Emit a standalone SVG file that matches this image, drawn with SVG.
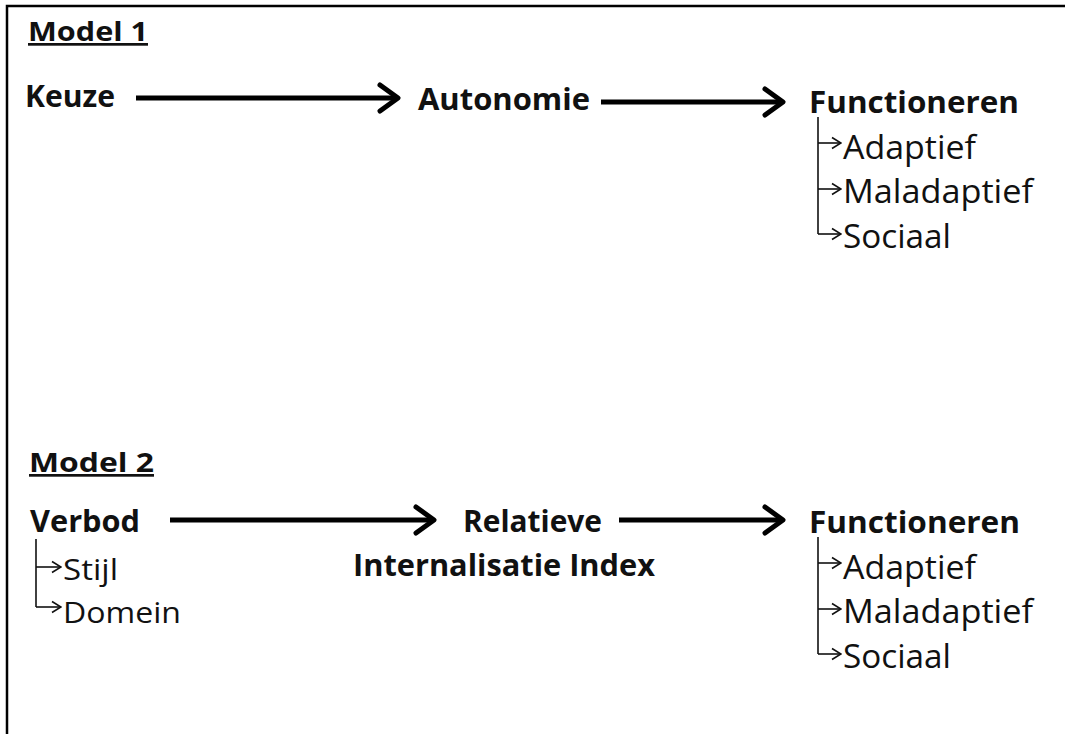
<svg xmlns="http://www.w3.org/2000/svg" width="1065" height="734" viewBox="0 0 1065 734">
<defs>
<style>
text{font-family:"Open Sans","Liberation Sans",sans-serif;fill:#111}
.t{font-size:27px;font-weight:bold;text-decoration:underline}
.h{font-size:30px;font-weight:bold}
.s{font-size:32px}
.s2{font-size:30px}
.big{fill:none;stroke:#000;stroke-width:5}
.sm{fill:none;stroke:#111;stroke-width:1.6}
</style>
<marker id="ah" markerUnits="userSpaceOnUse" viewBox="0 0 26 32" refX="22" refY="16" markerWidth="26" markerHeight="32" orient="auto">
<path d="M4,3 L22,16 L4,29" fill="none" stroke="#000" stroke-width="5" stroke-linecap="round" stroke-linejoin="round"/>
</marker>
<marker id="sh" markerUnits="userSpaceOnUse" viewBox="0 0 12 14" refX="11" refY="7" markerWidth="12" markerHeight="14" orient="auto">
<path d="M2,1.5 L11,7 L2,12.5" fill="none" stroke="#111" stroke-width="1.6"/>
</marker>
</defs>
<rect width="1065" height="734" fill="#fff"/>
<path d="M7,734 L7,6 L1065,6" fill="none" stroke="#000" stroke-width="2.5"/>

<g id="title1"><text class="t" x="28" y="41" textLength="120" lengthAdjust="spacingAndGlyphs">Model 1</text></g>
<g id="keuze"><text class="h" x="25" y="107" textLength="90" lengthAdjust="spacingAndGlyphs">Keuze</text></g>
<g id="autonomie"><text class="h" x="418" y="110" textLength="172" lengthAdjust="spacingAndGlyphs">Autonomie</text></g>
<g id="functioneren1">
<text class="h" x="809" y="113" textLength="210" lengthAdjust="spacingAndGlyphs">Functioneren</text>
<text class="s" x="843" y="159" textLength="133" lengthAdjust="spacingAndGlyphs">Adaptief</text>
<text class="s" x="843" y="203" textLength="190" lengthAdjust="spacingAndGlyphs">Maladaptief</text>
<text class="s" x="843" y="248" textLength="108" lengthAdjust="spacingAndGlyphs">Sociaal</text>
</g>

<g id="title2"><text class="t" x="29" y="472" textLength="125" lengthAdjust="spacingAndGlyphs">Model 2</text></g>
<g id="verbod">
<text class="h" x="30" y="532" textLength="110" lengthAdjust="spacingAndGlyphs">Verbod</text>
<text class="s2" x="63" y="580" textLength="55" lengthAdjust="spacingAndGlyphs">Stijl</text>
<text class="s2" x="63" y="623" textLength="118" lengthAdjust="spacingAndGlyphs">Domein</text>
</g>
<g id="rii">
<text class="h" x="463" y="532" textLength="139" lengthAdjust="spacingAndGlyphs">Relatieve</text>
<text class="h" x="353" y="576" textLength="302" lengthAdjust="spacingAndGlyphs">Internalisatie Index</text>
</g>
<g id="functioneren2">
<text class="h" x="809" y="533" textLength="211" lengthAdjust="spacingAndGlyphs">Functioneren</text>
<text class="s" x="843" y="579" textLength="133" lengthAdjust="spacingAndGlyphs">Adaptief</text>
<text class="s" x="843" y="623" textLength="190" lengthAdjust="spacingAndGlyphs">Maladaptief</text>
<text class="s" x="843" y="668" textLength="108" lengthAdjust="spacingAndGlyphs">Sociaal</text>
</g>

<g id="connectors">
<line class="big" x1="136" y1="98" x2="398" y2="98" marker-end="url(#ah)"/>
<line class="big" x1="601" y1="102" x2="783" y2="102" marker-end="url(#ah)"/>
<line class="big" x1="170" y1="520" x2="434" y2="520" marker-end="url(#ah)"/>
<line class="big" x1="619" y1="520" x2="783" y2="520" marker-end="url(#ah)"/>

<path class="sm" d="M818,117 L818,234"/>
<line class="sm" x1="818" y1="143" x2="841" y2="143" marker-end="url(#sh)"/>
<line class="sm" x1="818" y1="189" x2="841" y2="189" marker-end="url(#sh)"/>
<line class="sm" x1="818" y1="234" x2="841" y2="234" marker-end="url(#sh)"/>

<path class="sm" d="M818,537 L818,654"/>
<line class="sm" x1="818" y1="563" x2="841" y2="563" marker-end="url(#sh)"/>
<line class="sm" x1="818" y1="609" x2="841" y2="609" marker-end="url(#sh)"/>
<line class="sm" x1="818" y1="654" x2="841" y2="654" marker-end="url(#sh)"/>

<path class="sm" d="M36,539 L36,607"/>
<line class="sm" x1="36" y1="567" x2="61" y2="567" marker-end="url(#sh)"/>
<line class="sm" x1="36" y1="607" x2="61" y2="607" marker-end="url(#sh)"/>
</g>
</svg>
